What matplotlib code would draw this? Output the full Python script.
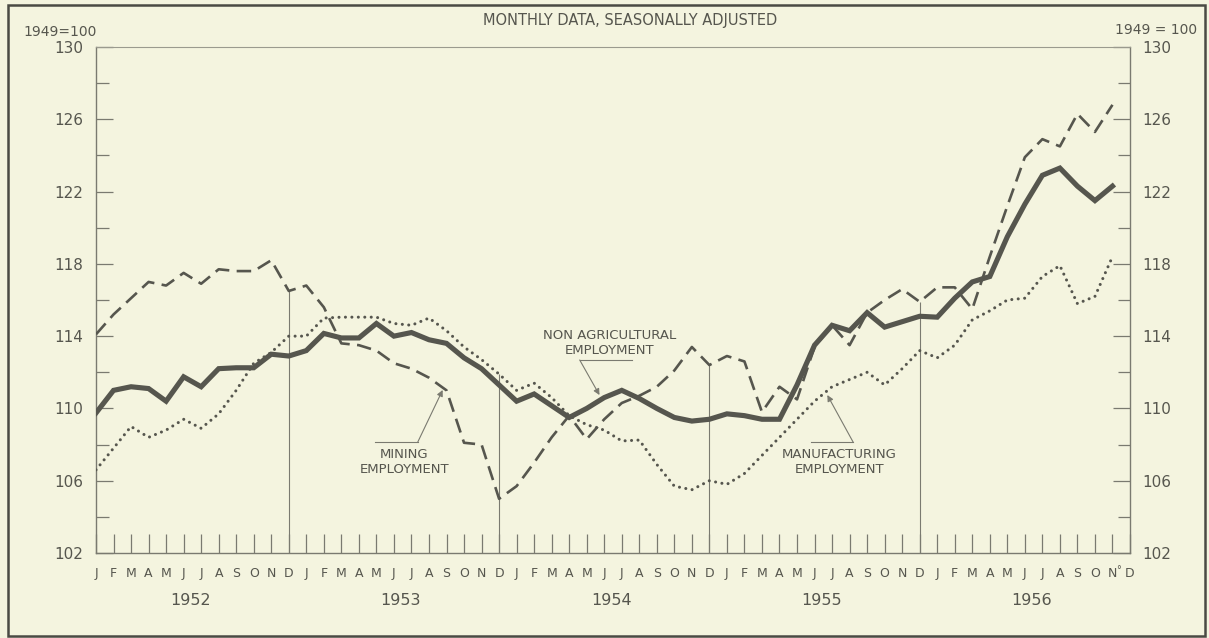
import numpy as np
import matplotlib
matplotlib.use("Agg")
import matplotlib.pyplot as plt
from matplotlib.patches import Rectangle

# ---- data (index 1949 = 100), monthly Jan 1952 .. Nov 1956 ----
years = ["1952", "1953", "1954", "1955", "1956"]
month_letters = ["J", "F", "M", "A", "M", "J", "J", "A", "S", "O", "N", "D"]

nonag = [109.75, 111.0, 111.2, 111.1, 110.4, 111.75, 111.2, 112.2, 112.25, 112.25, 113.0, 112.9,
         113.2, 114.15, 113.9, 113.9, 114.7, 114.0, 114.2, 113.8, 113.6, 112.8, 112.2, 111.3,
         110.4, 110.8, 110.15, 109.5, 110.0, 110.6, 111.0, 110.55, 110.0, 109.5, 109.3, 109.4,
         109.7, 109.6, 109.4, 109.4, 111.3, 113.5, 114.6, 114.3, 115.3, 114.5, 114.8, 115.1,
         115.05, 116.1, 117.0, 117.3, 119.5, 121.3, 122.9, 123.3, 122.3, 121.5, 122.3]

mining = [114.1, 115.2, 116.1, 117.0, 116.8, 117.5, 116.9, 117.7, 117.6, 117.6, 118.2, 116.5,
          116.8, 115.6, 113.6, 113.5, 113.2, 112.5, 112.2, 111.7, 111.0, 108.1, 108.0, 105.0,
          105.7, 107.0, 108.4, 109.6, 108.3, 109.4, 110.3, 110.7, 111.2, 112.1, 113.4, 112.4,
          112.9, 112.6, 109.8, 111.2, 110.5, 113.4, 114.6, 113.5, 115.3, 116.0, 116.6, 115.9,
          116.7, 116.7, 115.5, 118.4, 121.2, 123.9, 124.9, 124.5, 126.3, 125.3, 126.8]

manuf = [106.6, 107.8, 109.0, 108.4, 108.8, 109.4, 108.9, 109.7, 111.0, 112.5, 113.1, 114.0,
         114.0, 115.0, 115.05, 115.05, 115.05, 114.7, 114.6, 115.0, 114.3, 113.4, 112.7, 111.9,
         111.0, 111.4, 110.6, 109.6, 109.1, 108.8, 108.2, 108.25, 106.9, 105.7, 105.5, 106.0,
         105.8, 106.4, 107.4, 108.4, 109.4, 110.4, 111.2, 111.6, 112.0, 111.3, 112.2, 113.2,
         112.8, 113.5, 114.9, 115.4, 116.0, 116.1, 117.3, 117.9, 115.8, 116.2, 118.4]

y_major = [102, 106, 110, 114, 118, 122, 126, 130]
y_minor = [104, 108, 112, 116, 120, 124, 128]

# ---- style ----
BG = "#f4f4df"
INK = "#56564e"
GRID_INK = "#7a7a70"

W, H = 1209, 638
fig = plt.figure(figsize=(W / 100, H / 100), dpi=100, facecolor=BG)
ax = fig.add_axes([96 / W, 1 - 553 / H, (1130 - 96) / W, (553 - 47) / H])
ax.set_facecolor(BG)

n_months = 12 * len(years)
x = np.arange(len(nonag))

ax.plot(x, nonag, color=INK, lw=3.7, solid_joinstyle="miter", zorder=4)
ax.plot(x, mining, color=INK, lw=1.9, linestyle=(0, (5.5, 2.8)), zorder=3)
ax.plot(x, manuf, color=INK, lw=2.2, linestyle=(0, (0.01, 2.1)),
        dash_capstyle="round", zorder=3)

ax.set_xlim(0, n_months - 1)
ax.set_ylim(102, 130)

# December dividers up to the highest curve
for yi in range(len(years) - 1):
    m = 12 * yi + 11
    top = max(nonag[m], mining[m], manuf[m])
    ax.vlines(m, 102, top, color=GRID_INK, lw=0.8, zorder=2)

# spines
for side in ["left", "right", "bottom"]:
    ax.spines[side].set_color(GRID_INK)
    ax.spines[side].set_linewidth(1.0)
ax.spines["top"].set_color("#9a9a8e")
ax.spines["top"].set_linewidth(0.8)

# y ticks both sides, inward
ax.set_yticks(y_major)
ax.set_yticks(y_minor, minor=True)
ax.set_yticklabels([str(v) for v in y_major])
ax.tick_params(axis="y", which="major", direction="in", length=12.5, width=0.9,
               color=GRID_INK, left=True, right=True, labelleft=True, labelright=True,
               labelsize=11, labelcolor=INK, pad=9)
ax.tick_params(axis="y", which="minor", direction="in", length=9, width=0.9,
               color=GRID_INK, left=True, right=True)

# x ticks: every month
month_labels = month_letters * len(years)
ax.set_xticks(np.arange(n_months))
ax.set_xticklabels(month_labels)
ax.tick_params(axis="x", which="major", direction="in", length=13.5, width=0.9,
               color=GRID_INK, labelsize=9, labelcolor=INK, pad=10)

# preliminary mark after N 1956
ax.text(n_months - 2 + 0.36, 101.05, "\u00b0", fontsize=7, color=INK,
        ha="center", va="center", clip_on=False)

# year labels
for yi, yr in enumerate(years):
    ax.text(12 * yi + 5.4, 99.35, yr, fontsize=11.5, color=INK, ha="center", va="center",
            clip_on=False)

# annotations
arrow_kw = dict(arrowstyle="-|>", color=GRID_INK, lw=0.8, mutation_scale=9,
                shrinkA=0, shrinkB=0)

# Non agricultural
ax.text(29.3, 113.6, "NON AGRICULTURAL\nEMPLOYMENT", fontsize=9.5, color=INK,
        ha="center", va="center", linespacing=1.2)
ax.plot([27.6, 30.6], [112.68, 112.68], color=GRID_INK, lw=0.8)
ax.annotate("", xy=(28.73, 110.74), xytext=(27.6, 112.68), arrowprops=arrow_kw)

# Mining
ax.text(17.6, 107.04, "MINING\nEMPLOYMENT", fontsize=9.5, color=INK,
        ha="center", va="center", linespacing=1.2)
ax.plot([15.9, 18.36], [108.14, 108.14], color=GRID_INK, lw=0.8)
ax.annotate("", xy=(19.78, 111.02), xytext=(18.36, 108.14), arrowprops=arrow_kw)

# Manufacturing
ax.text(42.4, 107.04, "MANUFACTURING\nEMPLOYMENT", fontsize=9.5, color=INK,
        ha="center", va="center", linespacing=1.2)
ax.plot([40.8, 43.2], [108.14, 108.14], color=GRID_INK, lw=0.8)
ax.annotate("", xy=(41.73, 110.74), xytext=(43.2, 108.14), arrowprops=arrow_kw)

# header texts
fig.text(630 / W, 1 - 20 / H, "MONTHLY DATA, SEASONALLY ADJUSTED", fontsize=10.5,
         color=INK, ha="center", va="center")
fig.text(23 / W, 1 - 32 / H, "1949=100", fontsize=10, color=INK, ha="left", va="center")
fig.text(1197 / W, 1 - 30 / H, "1949 = 100", fontsize=10, color=INK, ha="right", va="center")

# outer frame
fig.patches.append(Rectangle((8 / W, 2 / H), (1205 - 8) / W, (633 - 2) / H,
                             transform=fig.transFigure, fill=False,
                             edgecolor="#4a4a44", lw=1.8))

fig.savefig("out.png", dpi=100, facecolor=BG)
